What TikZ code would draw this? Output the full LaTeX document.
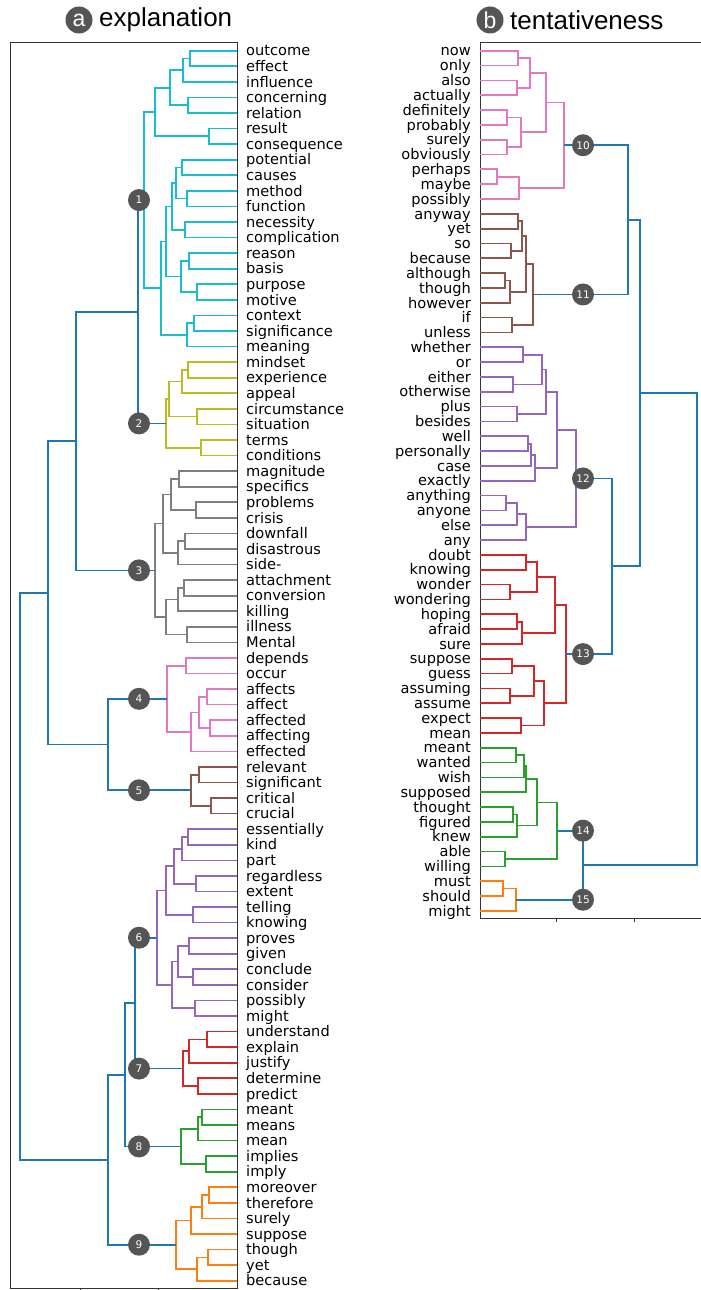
\documentclass[tikz,border=0pt]{standalone}
\usepackage{fontspec}
\setmainfont{DejaVu Sans}
\newfontfamily\titlefont{Liberation Sans}
\usetikzlibrary{calc}
\definecolor{tcy}{HTML}{17BECF}
\definecolor{tol}{HTML}{BCBD22}
\definecolor{tgr}{HTML}{7F7F7F}
\definecolor{tpk}{HTML}{E377C2}
\definecolor{tbr}{HTML}{8C564B}
\definecolor{tpu}{HTML}{9467BD}
\definecolor{trd}{HTML}{D62728}
\definecolor{tgn}{HTML}{2CA02C}
\definecolor{tor}{HTML}{FF7F0E}
\definecolor{tbl}{HTML}{1F77B4}
\definecolor{cdark}{HTML}{555555}
\newcommand\dmerge[5]{%
  \path let \p1=(#3),\p2=(#4) in coordinate (#1) at (#2,{0.5*(\y1+\y2)});
  \draw[lk,#5] (#3) -| (#1) |- (#4);}
\begin{document}
\begin{tikzpicture}[x=1pt,y=1pt,
  lk/.style={line width=1.7pt},
  frame/.style={draw=black!80,line width=1pt},
  lab/.style={inner sep=0pt,font=\fontsize{14.6}{16}\selectfont},
  num/.style={circle,fill=cdark,text=white,inner sep=0pt,minimum size=22pt,font=\fontsize{10.5}{12}\selectfont},
  ttl/.style={circle,fill=cdark,text=white,inner sep=0pt,minimum size=27pt,font=\titlefont\fontsize{23}{26}\selectfont},
  ttext/.style={inner sep=0pt,anchor=west,font=\titlefont\fontsize{26}{28}\selectfont}]
\useasboundingbox (0,0) rectangle (701,-1290);
% titles
\node[ttl] (ta) at (79,-20) {a};
\node[ttext] (tta) at (99,-20) {explanation};
\node[ttl] (tb) at (490,-20) {b};
\node[ttext] (ttb) at (510,-20) {tentativeness};
% frames
\draw[frame] (237,-43) -- (10,-43) -- (10,-1288) -- (237,-1288) -- cycle;
\draw[frame] (701,-43) -- (480,-43) -- (480,-918) -- (701,-918);
\foreach \t in {80,158} \draw[frame] (\t,-1288) -- (\t,-1292);
\foreach \t in {556,634} \draw[frame] (\t,-918) -- (\t,-922);
% left leaves
\foreach \w [count=\i] in {outcome,effect,influence,concerning,relation,result,consequence,potential,causes,method,function,necessity,complication,reason,basis,purpose,motive,context,significance,meaning,mindset,experience,appeal,circumstance,situation,terms,conditions,magnitude,specifics,problems,crisis,downfall,disastrous,side-,attachment,conversion,killing,illness,Mental,depends,occur,affects,affect,affected,affecting,effected,relevant,significant,critical,crucial,essentially,kind,part,regardless,extent,telling,knowing,proves,given,conclude,consider,possibly,might,understand,explain,justify,determine,predict,meant,means,mean,implies,imply,moreover,therefore,surely,suppose,though,yet,because}{
  \coordinate (a\i) at (237,{-(50.7+(\i-1)*15.57)});
  \node[lab,anchor=base west] (la\i) at (246,{-(50.7+(\i-1)*15.57)-5.2}) {\w};
}
% right leaves
\foreach \w [count=\i] in {now,only,also,actually,definitely,probably,surely,obviously,perhaps,maybe,possibly,anyway,yet,so,because,although,though,however,if,unless,whether,or,either,otherwise,plus,besides,well,personally,case,exactly,anything,anyone,else,any,doubt,knowing,wonder,wondering,hoping,afraid,sure,suppose,guess,assuming,assume,expect,mean,meant,wanted,wish,supposed,thought,figured,knew,able,willing,must,should,might}{
  \coordinate (b\i) at (480,{-(50.7+(\i-1)*14.83)});
  \node[lab,anchor=base east] (lb\i) at (471,{-(50.7+(\i-1)*14.83)-5.2}) {\w};
}
% cluster 1
\dmerge{c1a}{190}{a1}{a2}{tcy}
\dmerge{c1b}{183}{c1a}{a3}{tcy}
\dmerge{c1c}{188}{a4}{a5}{tcy}
\dmerge{c1d}{170}{c1b}{c1c}{tcy}
\dmerge{c1e}{209}{a6}{a7}{tcy}
\dmerge{c1f}{155}{c1d}{c1e}{tcy}
\dmerge{c1g}{182}{a8}{a9}{tcy}
\dmerge{c1h}{187}{a10}{a11}{tcy}
\dmerge{c1i}{176}{c1g}{c1h}{tcy}
\dmerge{c1j}{185}{a12}{a13}{tcy}
\dmerge{c1k}{172}{c1i}{c1j}{tcy}
\dmerge{c1l}{189}{a14}{a15}{tcy}
\dmerge{c1m}{197}{a16}{a17}{tcy}
\dmerge{c1n}{181}{c1l}{c1m}{tcy}
\dmerge{c1o}{166}{c1k}{c1n}{tcy}
\dmerge{c1p}{194}{a18}{a19}{tcy}
\dmerge{c1q}{187}{c1p}{a20}{tcy}
\dmerge{c1r}{161}{c1o}{c1q}{tcy}
\dmerge{C1}{144}{c1f}{c1r}{tcy}
% cluster 2
\dmerge{c2a}{188}{a21}{a22}{tol}
\dmerge{c2b}{182}{c2a}{a23}{tol}
\dmerge{c2c}{197}{a24}{a25}{tol}
\dmerge{c2d}{169}{c2b}{c2c}{tol}
\dmerge{c2e}{201}{a26}{a27}{tol}
\dmerge{C2}{166}{c2d}{c2e}{tol}
% cluster 3
\dmerge{c3a}{179}{a28}{a29}{tgr}
\dmerge{c3b}{196}{a30}{a31}{tgr}
\dmerge{c3c}{171}{c3a}{c3b}{tgr}
\dmerge{c3d}{185}{a32}{a33}{tgr}
\dmerge{c3e}{178}{c3d}{a34}{tgr}
\dmerge{c3f}{163}{c3c}{c3e}{tgr}
\dmerge{c3g}{184}{a35}{a36}{tgr}
\dmerge{c3h}{178}{c3g}{a37}{tgr}
\dmerge{c3i}{187}{a38}{a39}{tgr}
\dmerge{c3j}{166}{c3h}{c3i}{tgr}
\dmerge{C3}{155}{c3f}{c3j}{tgr}
% cluster 4
\dmerge{c4a}{186}{a40}{a41}{tpk}
\dmerge{c4b}{207}{a42}{a43}{tpk}
\dmerge{c4c}{210}{a44}{a45}{tpk}
\dmerge{c4d}{199}{c4b}{c4c}{tpk}
\dmerge{c4e}{191}{c4d}{a46}{tpk}
\dmerge{C4}{167}{c4a}{c4e}{tpk}
% cluster 5
\dmerge{c5a}{199}{a47}{a48}{tbr}
\dmerge{c5b}{211}{a49}{a50}{tbr}
\dmerge{C5}{191}{c5a}{c5b}{tbr}
% cluster 6
\dmerge{c6a}{188}{a51}{a52}{tpu}
\dmerge{c6b}{182}{c6a}{a53}{tpu}
\dmerge{c6c}{196}{a54}{a55}{tpu}
\dmerge{c6d}{174}{c6b}{c6c}{tpu}
\dmerge{c6e}{193}{a56}{a57}{tpu}
\dmerge{c6f}{166}{c6d}{c6e}{tpu}
\dmerge{c6g}{189}{a58}{a59}{tpu}
\dmerge{c6h}{193}{a60}{a61}{tpu}
\dmerge{c6i}{178}{c6g}{c6h}{tpu}
\dmerge{c6j}{195}{a62}{a63}{tpu}
\dmerge{c6k}{172}{c6i}{c6j}{tpu}
\dmerge{C6}{157}{c6f}{c6k}{tpu}
% cluster 7
\dmerge{c7a}{207}{a64}{a65}{trd}
\dmerge{c7b}{189}{c7a}{a66}{trd}
\dmerge{c7c}{198}{a67}{a68}{trd}
\dmerge{C7}{183}{c7b}{c7c}{trd}
% cluster 8
\dmerge{c8a}{202}{a69}{a70}{tgn}
\dmerge{c8b}{198}{c8a}{a71}{tgn}
\dmerge{c8c}{206}{a72}{a73}{tgn}
\dmerge{C8}{181}{c8b}{c8c}{tgn}
% cluster 9
\dmerge{c9a}{209}{a74}{a75}{tor}
\dmerge{c9b}{202}{c9a}{a76}{tor}
\dmerge{c9c}{191}{c9b}{a77}{tor}
\dmerge{c9d}{208}{a78}{a79}{tor}
\dmerge{c9e}{197}{c9d}{a80}{tor}
\dmerge{C9}{176}{c9c}{c9e}{tor}
% left links
\dmerge{A12}{138}{C1}{C2}{tbl}
\dmerge{A123}{76}{A12}{C3}{tbl}
\dmerge{A45}{108}{C4}{C5}{tbl}
\dmerge{A15}{48}{A123}{A45}{tbl}
\dmerge{A67}{135}{C6}{C7}{tbl}
\dmerge{A68}{125}{A67}{C8}{tbl}
\dmerge{A69}{108}{A68}{C9}{tbl}
\dmerge{Aroot}{20}{A15}{A69}{tbl}
% cluster 10
\dmerge{d0a}{518}{b1}{b2}{tpk}
\dmerge{d0b}{517}{b3}{b4}{tpk}
\dmerge{d0c}{530}{d0a}{d0b}{tpk}
\dmerge{d0d}{507}{b5}{b6}{tpk}
\dmerge{d0e}{507}{b7}{b8}{tpk}
\dmerge{d0f}{521}{d0d}{d0e}{tpk}
\dmerge{d0g}{546}{d0c}{d0f}{tpk}
\dmerge{d0h}{497}{b9}{b10}{tpk}
\dmerge{d0i}{519}{d0h}{b11}{tpk}
\dmerge{D10}{564}{d0g}{d0i}{tpk}
% cluster 11
\dmerge{d1a}{518}{b12}{b13}{tbr}
\dmerge{d1b}{511}{b14}{b15}{tbr}
\dmerge{d1c}{522}{d1a}{d1b}{tbr}
\dmerge{d1d}{505}{b16}{b17}{tbr}
\dmerge{d1e}{510}{d1d}{b18}{tbr}
\dmerge{d1f}{526}{d1c}{d1e}{tbr}
\dmerge{d1g}{512}{b19}{b20}{tbr}
\dmerge{D11}{533}{d1f}{d1g}{tbr}
% cluster 12
\dmerge{d2a}{523}{b21}{b22}{tpu}
\dmerge{d2b}{513}{b23}{b24}{tpu}
\dmerge{d2c}{542}{d2a}{d2b}{tpu}
\dmerge{d2d}{517}{b25}{b26}{tpu}
\dmerge{d2e}{546}{d2c}{d2d}{tpu}
\dmerge{d2f}{528}{b27}{b28}{tpu}
\dmerge{d2g}{531}{d2f}{b29}{tpu}
\dmerge{d2h}{535}{d2g}{b30}{tpu}
\dmerge{d2i}{557}{d2e}{d2h}{tpu}
\dmerge{d2j}{506}{b31}{b32}{tpu}
\dmerge{d2k}{517}{d2j}{b33}{tpu}
\dmerge{d2l}{526}{d2k}{b34}{tpu}
\dmerge{D12}{576}{d2i}{d2l}{tpu}
% cluster 13
\dmerge{d3a}{526}{b35}{b36}{trd}
\dmerge{d3b}{510}{b37}{b38}{trd}
\dmerge{d3c}{537}{d3a}{d3b}{trd}
\dmerge{d3d}{517}{b39}{b40}{trd}
\dmerge{d3e}{522}{d3d}{b41}{trd}
\dmerge{d3f}{555}{d3c}{d3e}{trd}
\dmerge{d3g}{512}{b42}{b43}{trd}
\dmerge{d3h}{510}{b44}{b45}{trd}
\dmerge{d3i}{534}{d3g}{d3h}{trd}
\dmerge{d3j}{521}{b46}{b47}{trd}
\dmerge{d3k}{544}{d3i}{d3j}{trd}
\dmerge{D13}{566}{d3f}{d3k}{trd}
% cluster 14
\dmerge{d4a}{516}{b48}{b49}{tgn}
\dmerge{d4b}{524}{d4a}{b50}{tgn}
\dmerge{d4c}{526}{d4b}{b51}{tgn}
\dmerge{d4d}{513}{b52}{b53}{tgn}
\dmerge{d4e}{517}{d4d}{b54}{tgn}
\dmerge{d4f}{537}{d4c}{d4e}{tgn}
\dmerge{d4g}{505}{b55}{b56}{tgn}
\dmerge{D14}{557}{d4f}{d4g}{tgn}
% cluster 15
\dmerge{d5a}{503}{b57}{b58}{tor}
\dmerge{D15}{516}{d5a}{b59}{tor}
% right links
\dmerge{B1011}{628}{D10}{D11}{tbl}
\dmerge{B1213}{612}{D12}{D13}{tbl}
\dmerge{B1013}{640}{B1011}{B1213}{tbl}
\dmerge{B1415}{583}{D14}{D15}{tbl}
\dmerge{Broot}{697}{B1013}{B1415}{tbl}
% number circles
\foreach \k in {1,...,9} \node[num] (n\k) at (139,0 |- C\k) {\k};
\foreach \k in {10,...,15} \node[num] (n\k) at (583,0 |- D\k) {\k};
\end{tikzpicture}
\end{document}
